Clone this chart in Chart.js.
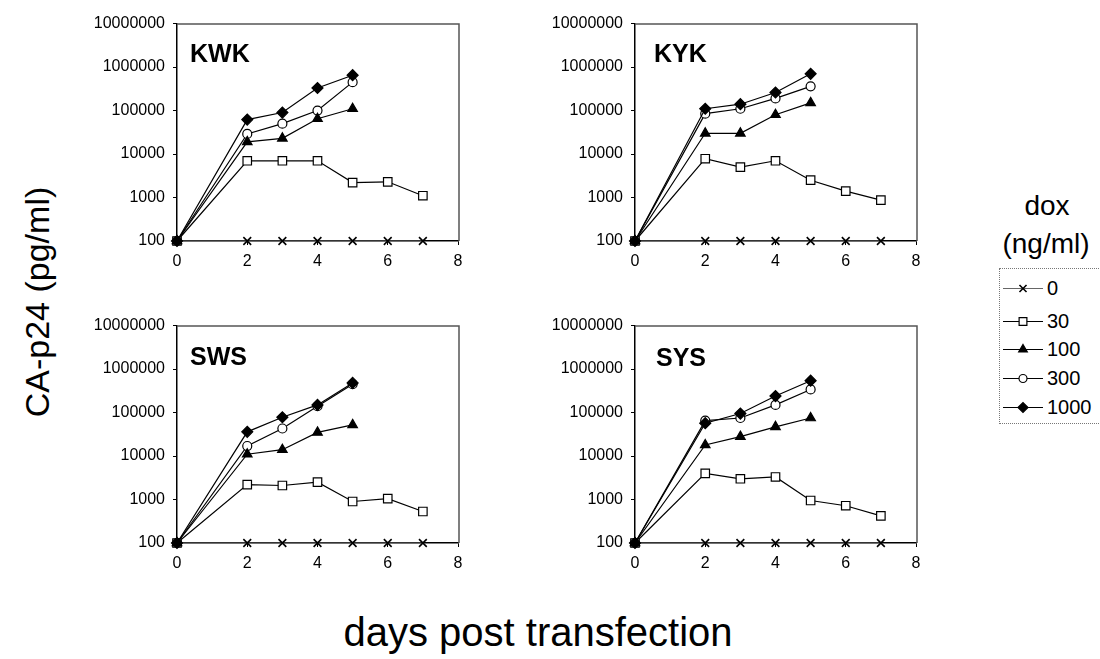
<!DOCTYPE html>
<html>
<head>
<meta charset="utf-8">
<script src="https://cdn.jsdelivr.net/npm/chart.js@4.4.6/dist/chart.umd.js"></script>
<style>
  body { margin: 0; background: #fff; font-family: "Liberation Sans", Arial, sans-serif; }
  #page { position: relative; width: 1100px; height: 659px; overflow: hidden; }
  .panel { position: absolute; }
  .txt { position: absolute; color: #000; white-space: nowrap; }
  #ytitle { left: 37px; top: 302px; font-size: 34px; transform: translate(-50%, -50%) rotate(-90deg); }
  #xtitle { left: 538px; top: 632px; font-size: 40px; transform: translate(-50%, -50%); }
  #dox { left: 1047px; top: 206px; font-size: 28px; transform: translate(-50%, -50%); }
  #ngml { left: 1046px; top: 244px; font-size: 28px; transform: translate(-50%, -50%); }
  #legend { position: absolute; left: 999px; top: 268px; width: 110px; height: 156px;
            border: 1px dotted #777; box-sizing: border-box; }
  .item { position: absolute; left: 0; height: 24px; }
  .item canvas { position: absolute; left: 2px; top: 0; }
  .item span { position: absolute; left: 47px; top: 0; line-height: 24px; font-size: 20px; }
</style>
</head>
<body>
<div id="page">
  <canvas id="kwk" class="panel"></canvas>
  <canvas id="kyk" class="panel"></canvas>
  <canvas id="sws" class="panel"></canvas>
  <canvas id="sys" class="panel"></canvas>
  <div id="ytitle" class="txt">CA-p24 (pg/ml)</div>
  <div id="xtitle" class="txt">days post transfection</div>
  <div id="dox" class="txt">dox</div>
  <div id="ngml" class="txt">(ng/ml)</div>
  <div id="legend"></div>
</div>
<script>
// days sampled
const daysLong = [0, 2, 3, 4, 5, 6, 7];
const daysShort = [0, 2, 3, 4, 5];
const doses = ['0', '30', '100', '300', '1000'];
const yTicks = [100, 1000, 10000, 100000, 1000000, 10000000];

// KWK
const kwk0 = [100, 100, 100, 100, 100, 100, 100];
const kwk30 = [100, 7000, 7000, 7000, 2200, 2300, 1100];
const kwk100 = [100, 19000, 23000, 65000, 110000];
const kwk300 = [100, 29000, 50000, 100000, 450000];
const kwk1000 = [100, 62000, 90000, 330000, 650000];

// KYK
const kyk0 = [100, 100, 100, 100, 100, 100, 100];
const kyk30 = [100, 7800, 5000, 7000, 2500, 1400, 870];
const kyk100 = [100, 30000, 30000, 80000, 150000];
const kyk300 = [100, 85000, 110000, 190000, 360000];
const kyk1000 = [100, 110000, 140000, 260000, 700000];

// SWS
const sws0 = [100, 100, 100, 100, 100, 100, 100];
const sws30 = [100, 2200, 2100, 2500, 900, 1050, 530];
const sws100 = [100, 11000, 14000, 35000, 52000];
const sws300 = [100, 17000, 43000, 140000, 450000];
const sws1000 = [100, 36000, 78000, 150000, 480000];

// SYS
const sys0 = [100, 100, 100, 100, 100, 100, 100];
const sys30 = [100, 4000, 3000, 3300, 950, 720, 420];
const sys100 = [100, 18000, 28000, 47000, 75000];
const sys300 = [100, 65000, 75000, 150000, 340000];
const sys1000 = [100, 57000, 95000, 240000, 540000];

// marker styles per dose
const markers = [
  { pointStyle: 'crossRot', radius: 5.5, fill: '#000', bw: 1.6 },
  { pointStyle: 'rect', radius: 6, fill: '#fff', bw: 1.2 },
  { pointStyle: 'triangle', radius: 5.5, fill: '#000', bw: 1.2 },
  { pointStyle: 'circle', radius: 4.5, fill: '#fff', bw: 1.2 },
  { pointStyle: 'rectRot', radius: 5.5, fill: '#000', bw: 1.2 }
];
// draw order: filled markers end up on top at the shared origin point
const drawOrder = [4, 3, 1, 2, 0];

const panels = [
  { id: 'kwk', title: 'KWK', left: 177, top: 21, tx: 13, ty: 38, series: [kwk0, kwk30, kwk100, kwk300, kwk1000] },
  { id: 'kyk', title: 'KYK', left: 635, top: 21, tx: 19, ty: 38, series: [kyk0, kyk30, kyk100, kyk300, kyk1000] },
  { id: 'sws', title: 'SWS', left: 177, top: 323, tx: 13, ty: 39, series: [sws0, sws30, sws100, sws300, sws1000] },
  { id: 'sys', title: 'SYS', left: 635, top: 323, tx: 21, ty: 40, series: [sys0, sys30, sys100, sys300, sys1000] }
];

const PLOT_W = 281, PLOT_H = 220, Y_W = 95, X_H = 35, PAD_T = 15, PAD_R = 15;
const FONT = '"Liberation Sans", Arial, sans-serif';

// top and right frame are grey in the original; panel name goes top left
const framePlugin = {
  id: 'frame',
  afterDraw(chart, args, opts) {
    const a = chart.chartArea, ctx = chart.ctx;
    ctx.save();
    ctx.strokeStyle = '#555';
    ctx.lineWidth = 1.5;
    ctx.beginPath();
    ctx.moveTo(a.left, a.top + 0.5);
    ctx.lineTo(a.right + 1, a.top + 0.5);
    ctx.lineTo(a.right + 1, a.bottom);
    ctx.stroke();
    ctx.fillStyle = '#000';
    ctx.font = 'bold 25px ' + FONT;
    ctx.textBaseline = 'alphabetic';
    ctx.fillText(opts.title, a.left + opts.tx, a.top + opts.ty);
    ctx.restore();
  }
};

panels.forEach(p => {
  const cv = document.getElementById(p.id);
  const w = Y_W + PLOT_W + PAD_R, h = PAD_T + PLOT_H + X_H;
  cv.style.left = (p.left - Y_W) + 'px';
  cv.style.top = (p.top - PAD_T) + 'px';
  cv.style.width = w + 'px';
  cv.style.height = h + 'px';
  cv.width = w; cv.height = h;

  const datasets = p.series.map((vals, i) => {
    const days = vals.length === daysLong.length ? daysLong : daysShort;
    return {
      label: doses[i],
      data: vals.map((v, k) => ({ x: days[k], y: v })),
      order: drawOrder[i],
      borderColor: i === 0 ? '#666' : '#000',
      borderWidth: 1.2,
      pointStyle: markers[i].pointStyle,
      pointRadius: markers[i].radius,
      pointBackgroundColor: markers[i].fill,
      pointBorderColor: '#000',
      pointBorderWidth: markers[i].bw,
      clip: false,
      tension: 0
    };
  });

  new Chart(cv, {
    type: 'line',
    data: { datasets },
    plugins: [framePlugin],
    options: {
      responsive: false,
      animation: false,
      devicePixelRatio: 1,
      layout: { padding: { top: PAD_T, right: PAD_R, left: 0, bottom: 0 } },
      plugins: {
        legend: { display: false },
        tooltip: { enabled: false },
        frame: { title: p.title, tx: p.tx, ty: p.ty }
      },
      scales: {
        x: {
          type: 'linear', min: 0, max: 8,
          ticks: { stepSize: 2, color: '#000', padding: 7, font: { family: FONT, size: 16 } },
          grid: { drawOnChartArea: false, drawTicks: true, tickLength: 4, color: '#000' },
          border: { color: '#000', width: 1.5 },
          afterFit(s) { s.height = X_H; }
        },
        y: {
          type: 'logarithmic', min: 100, max: 10000000,
          afterBuildTicks(s) { s.ticks = yTicks.map(v => ({ value: v })); },
          ticks: { color: '#000', padding: 8, font: { family: FONT, size: 16 }, callback: v => String(v) },
          grid: { drawOnChartArea: false, drawTicks: true, tickLength: 4, color: '#000' },
          border: { color: '#000', width: 1.5 },
          afterFit(s) { s.width = Y_W; }
        }
      }
    }
  });
});

// legend entries
const legend = document.getElementById('legend');
const itemTops = [7, 40, 68, 97, 126];
doses.forEach((d, i) => {
  const it = document.createElement('div');
  it.className = 'item';
  it.style.top = itemTops[i] + 'px';
  const c = document.createElement('canvas');
  c.width = 44; c.height = 24;
  const ctx = c.getContext('2d');
  ctx.strokeStyle = i === 0 ? '#666' : '#000';
  ctx.lineWidth = 1.2;
  ctx.beginPath(); ctx.moveTo(1, 12.5); ctx.lineTo(41, 12.5); ctx.stroke();
  ctx.strokeStyle = '#000';
  ctx.fillStyle = markers[i].fill;
  ctx.lineWidth = markers[i].bw;
  Chart.helpers.drawPoint(ctx, { pointStyle: markers[i].pointStyle, radius: markers[i].radius - 0.5, borderWidth: markers[i].bw, rotation: 0 }, 21, 12.5);
  const s = document.createElement('span');
  s.textContent = d;
  it.appendChild(c); it.appendChild(s);
  legend.appendChild(it);
});
</script>
</body>
</html>
